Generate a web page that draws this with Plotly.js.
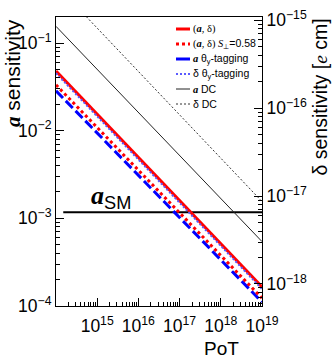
<!DOCTYPE html>
<html>
<head>
<meta charset="utf-8">
<script src="https://cdn.plot.ly/plotly-3.0.1.min.js"></script>
<style>
  html, body { margin: 0; padding: 0; background: #fff; }
  #chart { width: 332px; height: 364px; }
</style>
</head>
<body>
<div id="chart"></div>
<script>
// ---- data (values at the PoT end points) ----
const pot = [1e14, 1e19];
const aDelta = [0.048, 1.65e-4];          // (a, delta)
const aDeltaS058 = [0.0333, 1.23e-4];     // (a, delta) S=0.58
const aTheta = [0.0285, 1.11e-4];         // a theta_y-tagging
const deltaTheta = [2.50e-16, 8.75e-19];  // delta theta_y-tagging [e cm]
const aDC = [0.155, 5.43e-4];             // a DC
const deltaDC = [2.54e-15, 8.67e-18];     // delta DC [e cm]
const smPot = [1.5e14, 1e19];
const aSM = [1.17e-3, 1.17e-3];

// tick labels
const xTickVals = [1e15, 1e16, 1e17, 1e18, 1e19];
const xTickText = ['10<sup>15</sup>', '10<sup>16</sup>', '10<sup>17</sup>', '10<sup>18</sup>', '10<sup>19</sup>'];
const yTickVals = [1e-4, 1e-3, 1e-2, 1e-1];
const yTickText = ['10<sup>−4</sup>', '10<sup>−3</sup>', '10<sup>−2</sup>', '10<sup>−1</sup>'];
const y2TickVals = [1e-18, 1e-17, 1e-16, 1e-15];
const y2TickText = ['10<sup>−18</sup>', '10<sup>−17</sup>', '10<sup>−16</sup>', '10<sup>−15</sup>'];

const legendLabels = [
  '(<b><i>a</i></b>, δ)',
  '(<b><i>a</i></b>, δ) <i>S</i><sub>⊥</sub><span style="font-family:Liberation Sans">=0.58</span>',
  '<b><i>a</i></b> <span style="font-family:Liberation Sans">θ<sub>y</sub>-tagging</span>',
  '<span style="font-family:Liberation Sans">δ θ<sub>y</sub>-tagging</span>',
  '<b><i>a</i></b> <span style="font-family:Liberation Sans">DC</span>',
  '<span style="font-family:Liberation Sans">δ DC</span>'
];

// plot area in pixels, used to place the hand made legend and titles
const L = 56, R = 262, T = 17, B = 306;
const px = x => (x - L) / (R - L);
const py = y => (B - y) / (B - T);

const sans = 'Liberation Sans, Arial, sans-serif';
const serif = 'Liberation Serif, Times New Roman, serif';

function line(y, color, width, dash, axis) {
  return {
    x: pot, y: y, yaxis: axis || 'y', mode: 'lines', hoverinfo: 'none',
    line: { color: color, width: width, dash: dash || 'solid' }
  };
}

// legend order
const series = [
  line(aDelta, '#ff0000', 3),
  line(aDeltaS058, '#ff0000', 3, '3px,3px'),
  line(aTheta, '#0000ff', 3, '10px,4px'),
  line(deltaTheta, '#5a5aff', 2, '2px,2px', 'y2'),
  line(aDC, '#222222', 1),
  line(deltaDC, '#333333', 1, '2px,2px', 'y2')
];

const smTrace = {
  x: smPot, y: aSM, mode: 'lines', hoverinfo: 'none',
  line: { color: '#000', width: 2 }
};

// red on top, so draw in reverse legend order
const traces = [smTrace].concat(series.slice().reverse());

function minorVals(lo, hi) {
  const v = [];
  for (let p = lo; p < hi; p++) {
    for (let k = 2; k <= 9; k++) v.push(k * Math.pow(10, p));
  }
  return v;
}

const tickFont = { family: sans, size: 17.5, color: '#000' };

const shapes = [];
const annotations = [];

// legend: short samples + labels
series.forEach((s, i) => {
  const yy = 29 + 15 * i;
  shapes.push({
    type: 'line', xref: 'paper', yref: 'paper',
    x0: px(176), x1: px(190), y0: py(yy), y1: py(yy),
    line: { color: s.line.color, width: s.line.width, dash: i === 2 ? 'solid' : s.line.dash }
  });
  annotations.push({
    xref: 'paper', yref: 'paper', x: px(191), y: py(yy),
    xanchor: 'left', yanchor: 'middle', showarrow: false,
    text: legendLabels[i], font: { family: serif, size: 10.5, color: '#000' }
  });
});

// axis titles
annotations.push({
  xref: 'paper', yref: 'paper', x: px(13), y: 1, xanchor: 'center', yanchor: 'top',
  textangle: -90, showarrow: false,
  text: '<b><i><span style="font-family:Liberation Serif">a</span></i></b> sensitivity',
  font: { family: sans, size: 21, color: '#000' }
});
annotations.push({
  xref: 'paper', yref: 'paper', x: px(319), y: 1, xanchor: 'center', yanchor: 'top',
  textangle: -90, showarrow: false,
  text: 'δ sensitivity [<i><span style="font-family:Liberation Serif">e</span></i> cm]',
  font: { family: sans, size: 19.5, color: '#000' }
});
annotations.push({
  xref: 'paper', yref: 'paper', x: px(221), y: py(348), xanchor: 'center', yanchor: 'middle',
  showarrow: false, text: 'PoT',
  font: { family: sans, size: 19, color: '#000' }
});
annotations.push({
  xref: 'paper', yref: 'paper', x: px(89), y: py(197), xanchor: 'left', yanchor: 'middle',
  showarrow: false,
  text: '<b><i><span style="font-family:Liberation Serif">a</span></i></b><sub>SM</sub>',
  font: { family: sans, size: 26, color: '#000' }
});

function logAxis(range, vals, text, minor) {
  return {
    type: 'log', range: range,
    tickmode: 'array', tickvals: vals, ticktext: text,
    ticks: 'inside', ticklen: 8, tickcolor: '#000', tickfont: tickFont,
    showline: true, linecolor: '#000', linewidth: 1,
    showgrid: false, zeroline: false,
    minor: { tickmode: 'array', tickvals: minor, ticks: 'inside', ticklen: 4, tickcolor: '#000', showgrid: false }
  };
}

const xaxis = logAxis([14, 19], xTickVals, xTickText, minorVals(14, 19));
xaxis.mirror = true;
xaxis.ticklabelstandoff = 4;
const yaxis = logAxis([-4, -0.703], yTickVals, yTickText, minorVals(-4, 0));
const yaxis2 = logAxis([-18.251, -14.962], y2TickVals, y2TickText, minorVals(-19, -14));
yaxis2.overlaying = 'y';
yaxis2.side = 'right';
yaxis2.anchor = 'x';

const layout = {
  width: 332, height: 364,
  margin: { l: L, r: 332 - R, t: T, b: 364 - B, pad: 0 },
  paper_bgcolor: '#fff', plot_bgcolor: '#fff',
  showlegend: false,
  xaxis: xaxis, yaxis: yaxis, yaxis2: yaxis2,
  shapes: shapes,
  annotations: annotations
};

Plotly.newPlot('chart', traces, layout, { displayModeBar: false, staticPlot: true });
</script>
</body>
</html>
